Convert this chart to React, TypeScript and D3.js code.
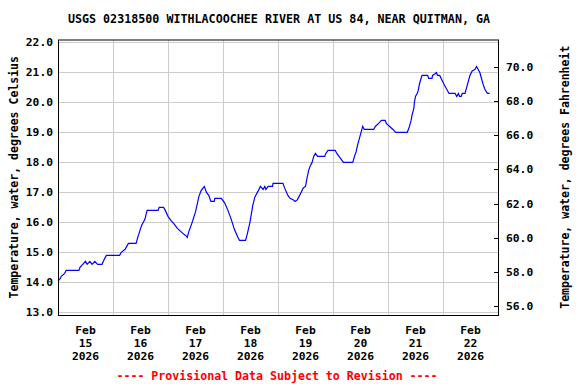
import React from "react";
import * as d3 from "d3";

const TITLE = "USGS 02318500 WITHLACOOCHEE RIVER AT US 84, NEAR QUITMAN, GA";
const LEFT_TITLE = "Temperature, water, degrees Celsius";
const RIGHT_TITLE = "Temperature, water, degrees Fahrenheit";
const FOOTER = "---- Provisional Data Subject to Revision ----";

// days since 2026-02-15 00:00
const obsDays = [
  0.00, 0.03, 0.06, 0.12, 0.15, 0.38, 0.40, 0.45, 0.50, 0.53, 0.58, 0.62, 0.67, 0.72, 0.80, 0.85, 0.88,
  1.12, 1.15, 1.22, 1.28, 1.42, 1.45, 1.52, 1.58, 1.62, 1.82, 1.84, 1.92, 1.95,
  2.00, 2.06, 2.11, 2.17, 2.23, 2.29, 2.33, 2.35, 2.38, 2.44, 2.50, 2.56, 2.60, 2.66, 2.70, 2.74, 2.78, 2.84, 2.85, 2.97,
  3.03, 3.09, 3.15, 3.21, 3.27, 3.30, 3.41, 3.44, 3.49, 3.54, 3.58, 3.64, 3.68, 3.73, 3.76, 3.78, 3.82, 3.90, 3.91,
  4.09, 4.12, 4.18, 4.22, 4.28, 4.31, 4.35, 4.38, 4.42, 4.46, 4.50, 4.53, 4.56, 4.59, 4.62, 4.65, 4.68, 4.72, 4.85, 4.87, 4.91,
  5.04, 5.07, 5.11, 5.15, 5.19, 5.36, 5.39, 5.42, 5.45, 5.48, 5.51, 5.54, 5.57, 5.74, 5.77, 5.83, 5.88, 5.95, 5.97,
  6.03, 6.09, 6.14, 6.35, 6.37, 6.39, 6.42, 6.44, 6.47, 6.48, 6.50, 6.53, 6.55, 6.57, 6.60, 6.62, 6.72, 6.74, 6.80, 6.81, 6.85, 6.88, 6.90, 6.94, 6.98,
  7.02, 7.05, 7.08, 7.11, 7.22, 7.25, 7.28, 7.30, 7.33, 7.35, 7.40, 7.43, 7.46, 7.49, 7.53, 7.58, 7.61, 7.64, 7.67, 7.70, 7.73, 7.76, 7.79, 7.81, 7.85,
];
const tempC = [
  14.05, 14.1, 14.2, 14.3, 14.4, 14.4, 14.5, 14.6, 14.7, 14.6, 14.7, 14.6, 14.7, 14.6, 14.6, 14.8, 14.9,
  14.9, 15.0, 15.1, 15.3, 15.3, 15.5, 15.9, 16.1, 16.4, 16.4, 16.5, 16.5, 16.4,
  16.2, 16.05, 15.95, 15.8, 15.7, 15.6, 15.55, 15.5, 15.7, 16.0, 16.35, 16.85, 17.05, 17.2, 17.0, 16.9, 16.7, 16.7, 16.8, 16.8,
  16.65, 16.4, 16.1, 15.75, 15.5, 15.4, 15.4, 15.6, 16.0, 16.55, 16.85, 17.05, 17.2, 17.1, 17.2, 17.1, 17.2, 17.2, 17.3,
  17.3, 17.15, 16.9, 16.8, 16.75, 16.7, 16.75, 16.85, 17.0, 17.15, 17.2, 17.5, 17.75, 17.9, 18.0, 18.2, 18.3, 18.2, 18.2, 18.3, 18.4,
  18.4, 18.3, 18.2, 18.1, 18.0, 18.0, 18.2, 18.35, 18.6, 18.8, 19.0, 19.2, 19.1, 19.1, 19.2, 19.3, 19.4, 19.4, 19.3,
  19.2, 19.1, 19.0, 19.0, 19.1, 19.2, 19.4, 19.6, 19.8, 20.0, 20.2, 20.3, 20.4, 20.6, 20.8, 20.9, 20.9, 20.8, 20.8, 20.9, 20.95, 21.0, 20.9, 20.9, 20.75,
  20.6, 20.5, 20.4, 20.3, 20.3, 20.2, 20.3, 20.2, 20.2, 20.3, 20.3, 20.5, 20.7, 20.9, 21.05, 21.1, 21.2, 21.1, 21.0, 20.8, 20.6, 20.45, 20.35, 20.3, 20.3,
];

const celsiusTicks = [13, 14, 15, 16, 17, 18, 19, 20, 21, 22];
const fahrenheitTicks = [56, 58, 60, 62, 64, 66, 68, 70];
const dayLabels = ["15", "16", "17", "18", "19", "20", "21", "22"];
const monthLabel = "Feb";
const yearLabel = "2026";

const START = new Date(2026, 1, 15, 0, 0);
const END = new Date(2026, 1, 23, 0, 0);
const FONT = "'DejaVu Sans Mono', monospace";

export default function App() {
  const W = 576, H = 384;
  const left = 58, right = 498, top = 39.5, bottom = 315;
  const cMin = 12.91, cMax = 22.1;
  const fMin = 55.47, fMax = 71.61;

  const x = d3.scaleTime().domain([START, END]).range([left, right]);
  const y = d3.scaleLinear().domain([cMin, cMax]).range([bottom, top]);
  const yF = d3.scaleLinear().domain([fMin, fMax]).range([bottom, top]);

  const toDate = (d: number) => new Date(START.getTime() + d * 86400000);
  const pts: [Date, number][] = obsDays.map((d, i) => [toDate(d), tempC[i]]);
  const line = d3.line<[Date, number]>().x((p) => x(p[0])).y((p) => y(p[1]));

  const midnights = d3.range(1, 8).map((i) => toDate(i));
  const noons = dayLabels.map((_, i) => toDate(i + 0.5));

  return (
    <svg width={W} height={H} style={{ display: "block", position: "absolute", left: 0, top: 0 }}
      fontFamily={FONT} fontWeight="bold">
      <rect x={0} y={0} width={W} height={H} fill="#fff" />
      <text x={(left + right) / 2 + 1} y={23} textAnchor="middle" fontSize={11.7} fill="#000">{TITLE}</text>

      {celsiusTicks.map((c) => (
        <line key={"hg" + c} x1={left} x2={right} y1={Math.round(y(c)) + 0.5} y2={Math.round(y(c)) + 0.5}
          stroke="#cccccc" strokeWidth={1} />
      ))}
      {midnights.map((d, i) => (
        <line key={"vg" + i} x1={Math.round(x(d)) + 0.5} x2={Math.round(x(d)) + 0.5} y1={top} y2={bottom}
          stroke="#cccccc" strokeWidth={1} />
      ))}

      <path d={line(pts) || ""} fill="none" stroke="#0000ff" strokeWidth={1.2} />

      <rect x={left + 0.5} y={top + 0.5} width={right - left} height={bottom - top} fill="none" stroke="#000" strokeWidth={1} />

      {celsiusTicks.map((c) => (
        <text key={"lt" + c} x={53} y={y(c) + 4} textAnchor="end" fontSize={11.3} fill="#000">{c.toFixed(1)}</text>
      ))}
      {fahrenheitTicks.map((f) => (
        <g key={"rt" + f}>
          <line x1={right - 4} x2={right} y1={Math.round(yF(f)) + 0.5} y2={Math.round(yF(f)) + 0.5} stroke="#000" />
          <text x={506} y={yF(f) + 4} textAnchor="start" fontSize={11.3} fill="#000">{f.toFixed(1)}</text>
        </g>
      ))}

      {noons.map((d, i) => (
        <g key={"xl" + i} fontSize={11.3} fill="#000">
          <text x={x(d)} y={334} textAnchor="middle">{monthLabel}</text>
          <text x={x(d)} y={347} textAnchor="middle">{dayLabels[i]}</text>
          <text x={x(d)} y={360} textAnchor="middle">{yearLabel}</text>
        </g>
      ))}

      <text transform={`translate(18,${(top + bottom) / 2}) rotate(-90)`} textAnchor="middle" fontSize={11.5} fill="#000">{LEFT_TITLE}</text>
      <text transform={`translate(569,${(top + bottom) / 2}) rotate(-90)`} textAnchor="middle" fontSize={11.5} fill="#000">{RIGHT_TITLE}</text>

      <text x={277} y={380} textAnchor="middle" fontSize={11.6} fill="#ff0000">{FOOTER}</text>
    </svg>
  );
}
